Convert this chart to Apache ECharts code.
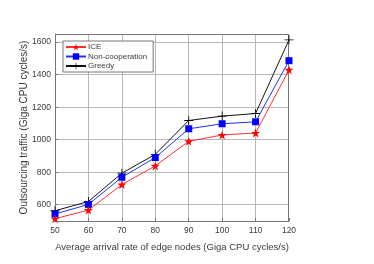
<!DOCTYPE html>
<html><head><meta charset="utf-8">
<script src="https://cdn.jsdelivr.net/npm/echarts@6/dist/echarts.min.js"></script>
<style>html,body{margin:0;padding:0;background:#fff}#c{width:374px;height:264px}</style>
</head><body><div id="c"></div>
<script>
const xValues = [50, 60, 70, 80, 90, 100, 110, 120];
const iceValues = [514, 567, 724, 839, 990, 1029, 1041, 1429];
const nonCoopValues = [543, 602, 769, 890, 1067, 1098, 1110, 1486];
const greedyValues = [563, 620, 794, 910, 1118, 1145, 1161, 1614];
const yTicks = [600, 800, 1000, 1200, 1400, 1600];
const seriesNames = ['ICE', 'Non-cooperation', 'Greedy'];

const star = 'path://M0,-1L0.2245,-0.309L0.951,-0.309L0.363,0.118L0.588,0.809L0,0.382L-0.588,0.809L-0.363,0.118L-0.951,-0.309L-0.2245,-0.309Z';
const plus = 'path://M-0.09,-1H0.09V-0.09H1V0.09H0.09V1H-0.09V0.09H-1V-0.09H-0.09Z';
const font = 'Liberation Sans';
const txt = '#3a3a3a';

const pair = v => xValues.map((x, i) => [x, v[i]]);
const gridMarks = [...yTicks.map(v => ({yAxis: v})), ...xValues.slice(1, -1).map(v => ({xAxis: v}))];
const chart = echarts.init(document.getElementById('c'));
chart.setOption({
  animation: false,
  grid: {left: 55, right: 85, top: 34, bottom: 43},
  legend: {
    orient: 'vertical', left: 63, top: 41, z: 10,
    padding: [2, 6, 2, 2], itemGap: 1.5, itemWidth: 20, itemHeight: 8,
    borderColor: '#555', borderWidth: 0.8, backgroundColor: '#fff',
    textStyle: {fontFamily: font, fontSize: 8, color: txt, padding: [0, 0, 0, -3]},
    data: seriesNames
  },
  xAxis: {
    type: 'value', min: 50, max: 120, interval: 10,
    name: 'Average arrival rate of edge nodes (Giga CPU cycles/s)',
    nameLocation: 'middle', nameGap: 21, nameMoveOverlap: false,
    nameTextStyle: {fontFamily: font, fontSize: 9.5, color: txt},
    axisLine: {show: true, onZero: false, lineStyle: {color: '#777', width: 1}},
    axisTick: {inside: true, length: 3, lineStyle: {color: '#777'}},
    axisLabel: {fontFamily: font, fontSize: 8.5, color: txt, margin: 5},
    splitLine: {show: false}
  },
  yAxis: {
    type: 'value', min: 500, max: 1650,
    name: 'Outsourcing traffic (Giga CPU cycles/s)',
    nameLocation: 'middle', nameGap: 26, nameMoveOverlap: false,
    nameTextStyle: {fontFamily: font, fontSize: 10, color: txt},
    axisLine: {show: true, onZero: false, lineStyle: {color: '#777', width: 1}},
    axisTick: {show: true, inside: true, length: 3, lineStyle: {color: '#777'}, customValues: yTicks},
    axisLabel: {fontFamily: font, fontSize: 8.5, color: txt, margin: 4, customValues: yTicks,
                formatter: v => String(v)},
    splitLine: {show: false}
  },
  series: [
    {name: seriesNames[0], type: 'line', data: pair(iceValues), symbol: star, symbolSize: 9,
     itemStyle: {color: '#ff0000'}, lineStyle: {color: '#ff3030', width: 1}, z: 4},
    {name: seriesNames[1], type: 'line', data: pair(nonCoopValues), symbol: 'rect', symbolSize: 7,
     itemStyle: {color: '#0000ff'}, lineStyle: {color: '#2030ff', width: 1}, z: 3},
    {name: seriesNames[2], type: 'line', data: pair(greedyValues), symbol: plus, symbolSize: 9,
     itemStyle: {color: '#000'}, lineStyle: {color: '#111', width: 1}, z: 2,
     markLine: {silent: true, symbol: 'none', label: {show: false}, animation: false, z: 0,
                lineStyle: {color: '#b8b8b8', width: 1, type: 'solid', opacity: 1},
                emphasis: {disabled: true}, data: gridMarks}}
  ]
});
const g = chart.getModel().getComponent('grid').coordinateSystem.getRect();
const x0 = g.x, x1 = g.x + g.width, y0 = g.y, y1 = g.y + g.height;
const edge = {stroke: '#777', lineWidth: 1};
chart.setOption({graphic: {elements: [
  {type: 'line', z: 1, shape: {x1: x0, y1: y0 + 0.5, x2: x1, y2: y0 + 0.5}, style: edge},
  {type: 'line', z: 1, shape: {x1: x1 - 0.5, y1: y0, x2: x1 - 0.5, y2: y1}, style: edge}
]}});
</script></body></html>
